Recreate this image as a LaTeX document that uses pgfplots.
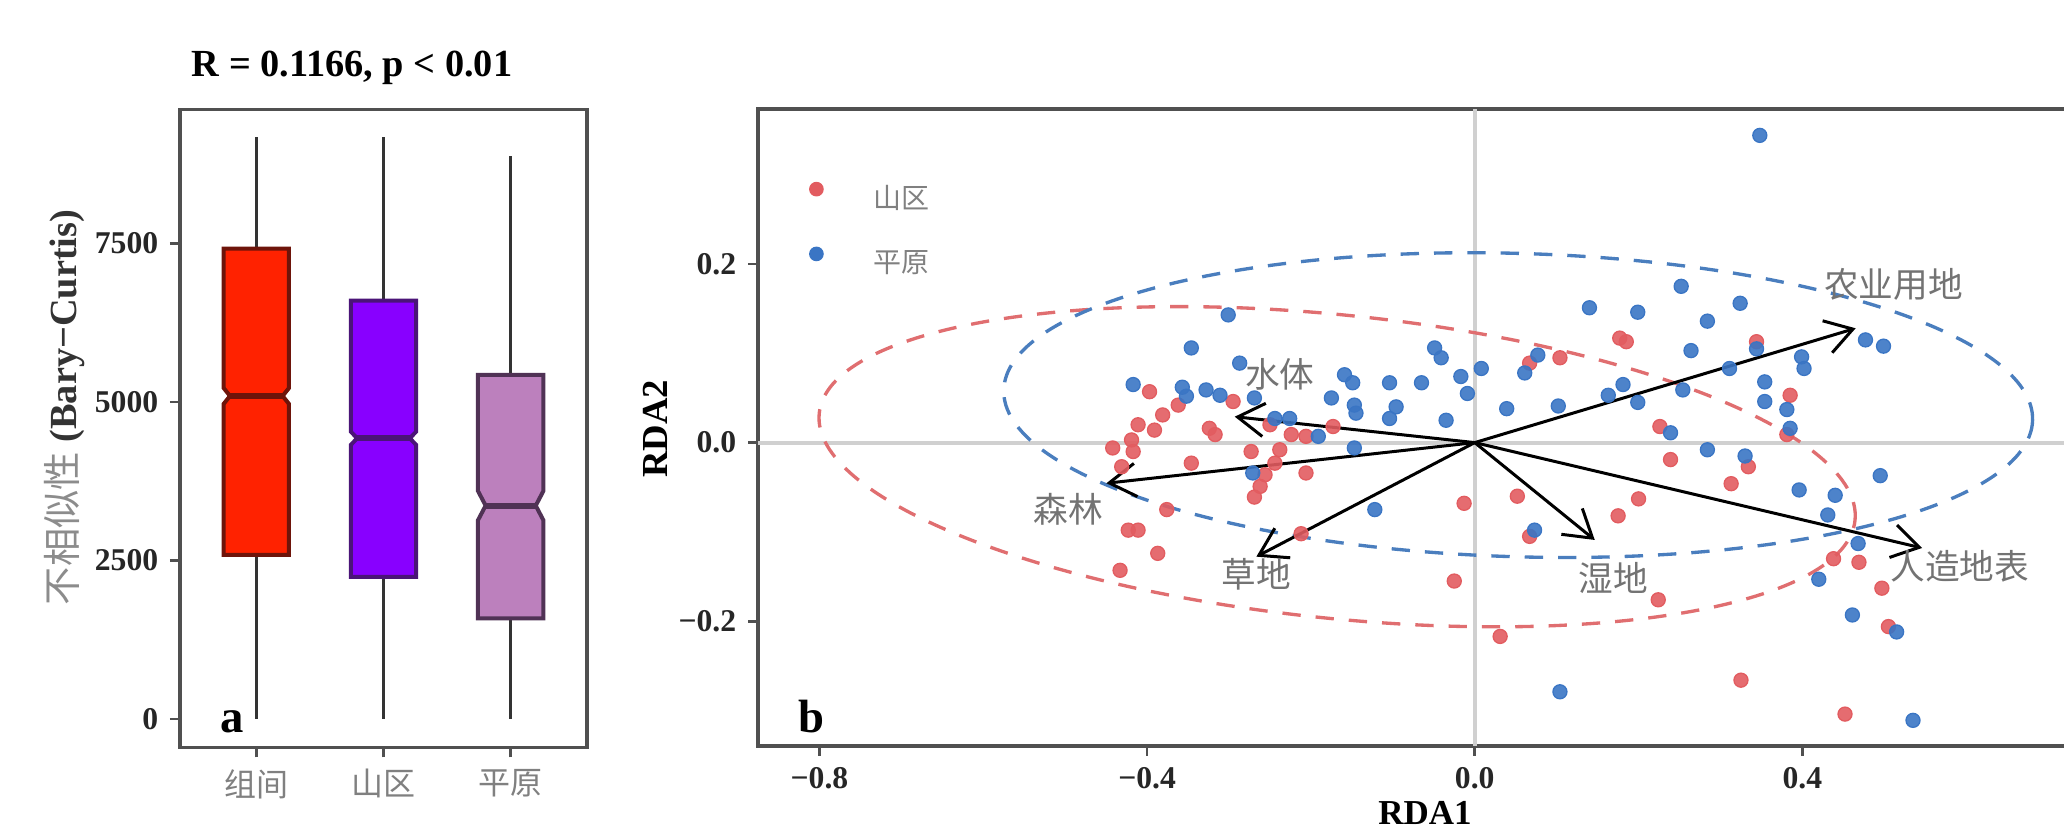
\documentclass[border=0pt]{standalone}
\usepackage{fontspec}
\setmainfont{Liberation Serif}
\newfontfamily\cjk{Noto Sans CJK SC}
\usepackage{pgfplots}
\pgfplotsset{compat=1.18}
\usetikzlibrary{arrows.meta}
\definecolor{zjfill}{RGB}{255,34,0}
\definecolor{zjline}{RGB}{110,20,10}
\definecolor{sqfill}{RGB}{136,0,255}
\definecolor{sqline}{RGB}{75,20,120}
\definecolor{pyfill}{RGB}{188,128,189}
\definecolor{pyline}{RGB}{80,50,85}
\definecolor{ptred}{RGB}{226,92,96}
\definecolor{ptblue}{RGB}{58,117,196}
\definecolor{elred}{RGB}{224,110,112}
\definecolor{elblue}{RGB}{74,126,190}
\definecolor{zerogray}{RGB}{208,208,208}
\definecolor{framegray}{RGB}{80,80,80}
\begin{document}
\begin{tikzpicture}
% ---------------- panel a ----------------
\begin{axis}[
  at={(54pt,24.75pt)}, anchor=south west, scale only axis,
  width=122.1pt, height=191.4pt,
  xmin=0.4, xmax=3.6, ymin=-451, ymax=9611,
  xtick={1,2,3}, xticklabels={组间,山区,平原},
  ytick={0,2500,5000,7500}, yticklabels={0,2500,5000,7500},
  tick align=outside, tick pos=left, major tick length=3pt,
  axis line style={draw=framegray, line width=1pt},
  every tick/.style={draw=framegray, line width=0.8pt},
  xticklabel style={font=\cjk\fontsize{9.6}{10}\selectfont, text=black!50},
  yticklabel style={font=\fontsize{9.5}{10}\selectfont\bfseries, text=black!85},
]
% whiskers
\addplot[black!80, line width=0.9pt] coordinates {(1,7415) (1,9185)};
\addplot[black!80, line width=0.9pt] coordinates {(1,0) (1,2588)};
\addplot[black!80, line width=0.9pt] coordinates {(2,6596) (2,9185)};
\addplot[black!80, line width=0.9pt] coordinates {(2,0) (2,2238)};
\addplot[black!80, line width=0.9pt] coordinates {(3,5427) (3,8875)};
\addplot[black!80, line width=0.9pt] coordinates {(3,0) (3,1587)};
% notched boxes
\addplot[draw=zjline, fill=zjfill, line width=1.2pt, line join=miter] coordinates {(0.743,2588) (1.257,2588) (1.257,4967) (1.207,5093) (1.257,5219) (1.257,7415) (0.743,7415) (0.743,5219) (0.793,5093) (0.743,4967) (0.743,2588)} -- cycle;
\addplot[draw=zjline, line width=1.8pt] coordinates {(0.793,5093) (1.207,5093)};
\addplot[draw=sqline, fill=sqfill, line width=1.2pt, line join=miter] coordinates {(1.743,2238) (2.257,2238) (2.257,4321) (2.207,4426) (2.257,4531) (2.257,6596) (1.743,6596) (1.743,4531) (1.793,4426) (1.743,4321) (1.743,2238)} -- cycle;
\addplot[draw=sqline, line width=1.8pt] coordinates {(1.793,4426) (2.207,4426)};
\addplot[draw=pyline, fill=pyfill, line width=1.2pt, line join=miter] coordinates {(2.743,1587) (3.257,1587) (3.257,3134) (3.197,3364) (3.257,3594) (3.257,5427) (2.743,5427) (2.743,3594) (2.803,3364) (2.743,3134) (2.743,1587)} -- cycle;
\addplot[draw=pyline, line width=1.8pt] coordinates {(2.803,3364) (3.197,3364)};
\end{axis}
\node[anchor=base west, font=\fontsize{11.5}{12}\selectfont\bfseries] at (54pt,225.9pt) {R = 0.1166, p < 0.01};
\node[rotate=90, font=\fontsize{11.5}{12}\selectfont] at (19.5pt,126.75pt) {{\cjk\color{black!45}不相似性} {\bfseries\color{black!80}(Bary−Curtis)}};
\node[anchor=base west, font=\fontsize{14}{14}\selectfont\bfseries] at (62.6pt,29.1pt) {a};
% ---------------- panel b ----------------
\begin{axis}[
  at={(227.4pt,25.2pt)}, anchor=south west, scale only axis,
  width=400.2pt, height=191.2pt,
  xmin=-0.875, xmax=0.7535, ymin=-0.3397, ymax=0.3739,
  xtick={-0.8,-0.4,0,0.4}, xticklabels={−0.8,−0.4,0.0,0.4},
  ytick={-0.2,0,0.2}, yticklabels={−0.2,0.0,0.2},
  tick align=outside, tick pos=left, major tick length=3pt,
  axis line style={draw=framegray, line width=1.1pt},
  every tick/.style={draw=framegray, line width=0.8pt},
  ticklabel style={font=\fontsize{9.5}{10}\selectfont\bfseries, text=black!85},
  legend image code/.code={\fill[#1] (0pt,3pt) circle (2pt);},
  legend style={draw=none, fill=none, inner sep=0pt, outer sep=0pt,
    nodes={inner sep=0pt}, column sep=15pt, row sep=10pt,
    font=\cjk\fontsize{8.4}{9}\selectfont, text=black!50,
    at={(axis cs:-0.8045,0.2385)}, anchor=west, xshift=-2pt},
  legend cell align=left,
]
\addplot[zerogray, line width=1.2pt, forget plot] coordinates {(0,-0.3397) (0,0.3739)};
\addplot[zerogray, line width=1.2pt, forget plot] coordinates {(-0.875,0) (0.7535,0)};
% 山区
\addplot[only marks, mark=*, mark size=2.1pt, color=ptred, fill=ptred, mark options={draw=none, fill=ptred, fill opacity=0.9}] coordinates {
(-0.397,0.057) (-0.362,0.042) (-0.381,0.031) (-0.411,0.020) (-0.391,0.014)
(-0.295,0.046) (-0.324,0.016) (-0.317,0.009) (-0.419,0.003) (-0.442,-0.006)
(-0.417,-0.010) (-0.431,-0.027) (-0.346,-0.023) (-0.273,-0.010) (-0.250,0.020)
(-0.238,-0.008) (-0.244,-0.023) (-0.256,-0.036) (-0.224,0.009) (-0.206,0.007)
(-0.173,0.018) (-0.206,-0.034) (-0.269,-0.061) (-0.262,-0.049) (-0.376,-0.075)
(-0.423,-0.098) (-0.411,-0.098) (-0.387,-0.124) (-0.433,-0.143) (-0.212,-0.102)
(0.177,0.117) (0.185,0.113) (0.104,0.095) (0.067,0.089) (0.344,0.113)
(0.226,0.018) (0.239,-0.019) (0.334,-0.027) (0.313,-0.046) (0.200,-0.063)
(0.175,-0.082) (0.052,-0.060) (-0.013,-0.068) (0.067,-0.105) (-0.025,-0.155)
(0.385,0.053) (0.381,0.009) (0.438,-0.130) (0.469,-0.134) (0.497,-0.163)
(0.031,-0.217) (0.224,-0.176) (0.325,-0.266) (0.452,-0.304) (0.505,-0.206)
};
\addlegendentry{山区}
% 平原
\addplot[only marks, mark=*, mark size=2.1pt, color=ptblue, fill=ptblue, mark options={draw=none, fill=ptblue, fill opacity=0.9}] coordinates {
(-0.346,0.106) (-0.287,0.089) (-0.417,0.065) (-0.357,0.062) (-0.352,0.052)
(-0.328,0.059) (-0.311,0.053) (-0.269,0.050) (-0.159,0.076) (-0.149,0.067)
(-0.104,0.067) (-0.065,0.067) (-0.175,0.050) (-0.147,0.042) (-0.145,0.033)
(-0.096,0.040) (-0.104,0.027) (-0.244,0.027) (-0.226,0.027) (-0.191,0.007)
(-0.147,-0.006) (-0.271,-0.034) (-0.122,-0.075) (-0.301,0.143)
(0.252,0.175) (0.140,0.151) (0.199,0.146) (0.324,0.156) (0.284,0.136)
(0.264,0.103) (0.344,0.105) (-0.049,0.106) (-0.041,0.095) (0.008,0.083)
(-0.017,0.074) (-0.009,0.055) (-0.035,0.025) (0.039,0.038) (0.102,0.041)
(0.077,0.098) (0.061,0.078) (0.163,0.053) (0.181,0.065) (0.199,0.045)
(0.254,0.059) (0.311,0.083) (0.239,0.011) (0.284,-0.008) (0.330,-0.015)
(0.073,-0.098) (0.354,0.068) (0.354,0.046)
(0.399,0.096) (0.402,0.083) (0.477,0.115) (0.499,0.108) (0.381,0.037)
(0.385,0.016) (0.495,-0.037) (0.396,-0.053) (0.440,-0.059) (0.431,-0.081)
(0.468,-0.113) (0.420,-0.153)
(0.461,-0.193) (0.515,-0.212) (0.104,-0.279) (0.535,-0.311) (0.348,0.344)
};
\addlegendentry{平原}
% ellipses
\draw[elred, line width=1pt, dash pattern=on 5.5pt off 4.5pt, rotate around={-5.9:(axis cs:-0.168,-0.027)}] (axis cs:-0.168,-0.027) ellipse [x radius=156.2pt, y radius=45.5pt];
\draw[elblue, line width=1pt, dash pattern=on 5.5pt off 4.5pt, rotate around={-1.7:(axis cs:0.053,0.042)}] (axis cs:0.053,0.042) ellipse [x radius=154.4pt, y radius=45.5pt];
% arrows
\addplot[black, line width=0.9pt, -{Straight Barb[length=8pt,width=10pt]}, forget plot] coordinates {(0,0) (0.465,0.128)};
\addplot[black, line width=0.9pt, -{Straight Barb[length=8pt,width=10pt]}, forget plot] coordinates {(0,0) (0.546,-0.118)};
\addplot[black, line width=0.9pt, -{Straight Barb[length=8pt,width=10pt]}, forget plot] coordinates {(0,0) (0.1465,-0.109)};
\addplot[black, line width=0.9pt, -{Straight Barb[length=8pt,width=10pt]}, forget plot] coordinates {(0,0) (-0.2666,-0.1277)};
\addplot[black, line width=0.9pt, -{Straight Barb[length=8pt,width=10pt]}, forget plot] coordinates {(0,0) (-0.4497,-0.0455)};
\addplot[black, line width=0.9pt, -{Straight Barb[length=8pt,width=10pt]}, forget plot] coordinates {(0,0) (-0.293,0.029)};
\begin{scope}[every node/.style={font=\cjk\fontsize{10.4}{11}\selectfont, text=black!55}]
\node at (axis cs:0.511,0.177) {农业用地};
\node at (axis cs:0.592,-0.139) {人造地表};
\node at (axis cs:0.169,-0.152) {湿地};
\node at (axis cs:-0.267,-0.148) {草地};
\node at (axis cs:-0.496,-0.075) {森林};
\node at (axis cs:-0.238,0.076) {水体};
\end{scope}
\end{axis}
\node[anchor=base west, font=\fontsize{14}{14}\selectfont\bfseries] at (236.1pt,29.1pt) {b};
\node[rotate=90, font=\fontsize{11}{12}\selectfont\bfseries] at (196.5pt,120.3pt) {RDA2};
\node[anchor=base, inner sep=0pt, font=\fontsize{10.5}{11}\selectfont\bfseries] at (427.5pt,1.6pt) {RDA1};
\pgfresetboundingbox
\path[use as bounding box] (0pt,0pt) rectangle (619.2pt,249pt);
\end{tikzpicture}
\end{document}
